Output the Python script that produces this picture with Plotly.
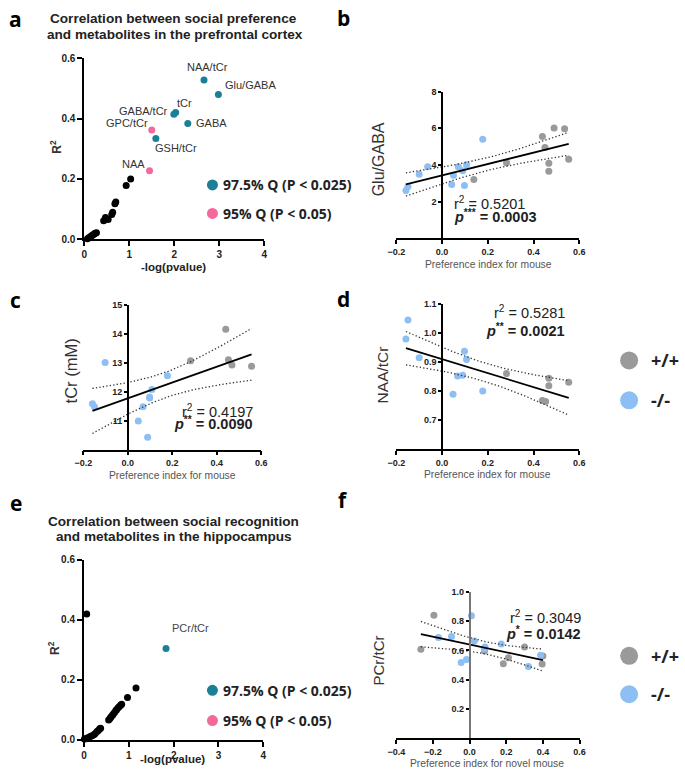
import numpy as np
import plotly.graph_objects as go

W, H = 685, 780

# ---------------- DATA ----------------
# Panel a: prefrontal cortex, R^2 vs -log(p)
a_names = ["NAA/tCr", "Glu/GABA", "tCr", "GABA/tCr", "GABA", "GSH/tCr", "GPC/tCr", "NAA"]
a_x = [2.66, 2.98, 2.03, 1.99, 2.30, 1.59, 1.50, 1.45]
a_y = [0.528, 0.480, 0.420, 0.414, 0.384, 0.334, 0.362, 0.227]
a_group = ["q975", "q975", "q975", "q975", "q975", "q975", "q95", "q95"]
a_black_x = [1.03, 0.93, 0.70, 0.68, 0.63, 0.61, 0.53, 0.47, 0.43, 0.27, 0.24, 0.22, 0.19, 0.16, 0.13, 0.10, 0.07]
a_black_y = [0.200, 0.178, 0.124, 0.118, 0.090, 0.082, 0.066, 0.072, 0.062, 0.022, 0.020, 0.018, 0.014, 0.012, 0.008, 0.005, 0.002]

# Panel e: hippocampus
e_names = ["PCr/tCr"]
e_x = [1.83]
e_y = [0.304]
e_black_x = [0.06, 1.16, 0.97, 0.84, 0.82, 0.79, 0.76, 0.73, 0.71, 0.68, 0.65, 0.63, 0.60, 0.58, 0.55,
             0.37, 0.35, 0.32, 0.29, 0.25, 0.22, 0.18, 0.14, 0.10, 0.07, 0.05, 0.01]
e_black_y = [0.419, 0.172, 0.140, 0.118, 0.115, 0.110, 0.106, 0.100, 0.097, 0.090, 0.084, 0.080, 0.075, 0.070, 0.065,
             0.038, 0.036, 0.030, 0.027, 0.020, 0.016, 0.013, 0.010, 0.006, 0.005, 0.003, 0.002]

# Panel b: Glu/GABA vs preference index
b_wt_x = [0.139, 0.282, 0.439, 0.490, 0.536, 0.450, 0.467, 0.467, 0.554]
b_wt_y = [3.21, 4.13, 5.55, 6.02, 5.98, 4.96, 4.09, 3.66, 4.32]
b_ko_x = [-0.158, -0.149, -0.100, -0.063, 0.071, 0.050, 0.042, 0.090, 0.107, 0.098, 0.178]
b_ko_y = [2.61, 2.83, 3.50, 3.91, 3.91, 3.44, 2.94, 3.69, 4.02, 2.88, 5.41]

# Panel c: tCr (mM)
c_wt_x = [0.282, 0.440, 0.452, 0.468, 0.556]
c_wt_y = [13.08, 14.17, 13.11, 12.93, 12.89]
c_ko_x = [-0.159, -0.150, -0.102, 0.047, 0.068, 0.089, 0.098, 0.108, 0.178, 0.098]
c_ko_y = [11.59, 11.48, 13.02, 10.99, 11.48, 10.43, 11.79, 12.08, 12.56, 11.82]

# Panel d: NAA/tCr
d_wt_x = [0.282, 0.467, 0.467, 0.554, 0.439, 0.453]
d_wt_y = [0.860, 0.844, 0.818, 0.830, 0.768, 0.764]
d_ko_x = [-0.149, -0.158, -0.100, 0.098, 0.107, 0.068, 0.090, 0.048, 0.178]
d_ko_y = [1.044, 0.979, 0.914, 0.937, 0.908, 0.852, 0.854, 0.789, 0.800]

# Panel f: PCr/tCr vs preference index for novel mouse
f_wt_x = [-0.266, -0.195, 0.081, 0.212, 0.184, 0.300, 0.400, 0.396]
f_wt_y = [0.608, 0.841, 0.597, 0.550, 0.509, 0.624, 0.563, 0.507]
f_ko_x = [-0.170, -0.099, 0.010, 0.026, -0.046, -0.017, 0.084, 0.173, 0.321, 0.387, 0.080]
f_ko_y = [0.689, 0.696, 0.837, 0.664, 0.518, 0.538, 0.624, 0.644, 0.491, 0.568, 0.610]

stats_text = {
    "b": ("0.5201", "***", "0.0003"),
    "c": ("0.4197", "**", "0.0090"),
    "d": ("0.5281", "**", "0.0021"),
    "f": ("0.3049", "*", "0.0142"),
}
# two-sided 95% t critical values by degrees of freedom
t_crit = {12: 2.179, 13: 2.160, 14: 2.145, 15: 2.131, 16: 2.120, 17: 2.110, 18: 2.101, 19: 2.093}

# ---------------- STYLE ----------------
TEAL = "#1b7f95"
PINK = "#f26a9c"
GRAY = "#9a9a9a"
BLUE = "#8dbff4"
FONT = "Arial, Liberation Sans, sans-serif"
OPEN = "Open Sans, sans-serif"


def px(x):
    return x / W


def py(y):
    return 1 - y / H


fig = go.Figure()

# domains in pixels: (x0, x1, ytop, ybottom)
dom = {
    1: (77, 261, 53, 237),
    2: (396, 583, 87, 236),
    3: (76, 258, 304, 450.5),
    4: (396, 583, 302.3, 450.3),
    5: (76.7, 260, 562.3, 745),
    6: (396, 583.3, 595, 743.8),
}
ranges = {
    1: ([0, 4], [0, 0.6]),
    2: ([-0.2, 0.6], [0, 8]),
    3: ([-0.2, 0.6], [10, 15]),
    4: ([-0.2, 0.6], [0.6, 1.1]),
    5: ([0, 4], [0, 0.6]),
    6: ([-0.4, 0.6], [0, 1.0]),
}


def ax(i, s):
    return s if i == 1 else f"{s}{i}"


def tr(i):
    return dict(xaxis=ax(i, "x"), yaxis=ax(i, "y"))


tickfont = dict(family=FONT, size=10, color="#222", weight="bold")
tickfont_s = dict(family=FONT, size=9, color="#222", weight="bold")

for i in range(1, 7):
    x0, x1, yt, yb = dom[i]
    xr, yr = ranges[i]
    xd = [px(x0), px(x1)]
    yd = [py(yb), py(yt)]
    xkey = "xaxis" if i == 1 else f"xaxis{i}"
    ykey = "yaxis" if i == 1 else f"yaxis{i}"
    if i in (1, 5):
        xa = dict(domain=xd, range=xr, anchor=ax(i, "y"), tickvals=[0, 1, 2, 3, 4],
                  showgrid=False, zeroline=False, showline=True, linecolor="black", linewidth=2,
                  ticks="outside", ticklen=5, tickwidth=2, tickcolor="black", tickfont=tickfont)
        ya = dict(domain=yd, range=yr, anchor=ax(i, "x"), tickvals=[0, 0.2, 0.4, 0.6], tickformat=".1f",
                  showgrid=False, zeroline=False, showline=True, linecolor="black", linewidth=2,
                  ticks="outside", ticklen=5, tickwidth=2, tickcolor="black", tickfont=tickfont)
    else:
        if i == 6:
            xt = [-0.4, -0.2, 0, 0.2, 0.4, 0.6]
        else:
            xt = [-0.2, 0, 0.2, 0.4, 0.6]
        yt_vals = {2: [2, 4, 6, 8], 3: [11, 12, 13, 14, 15], 4: [0.7, 0.8, 0.9, 1.0, 1.1],
                   6: [0.2, 0.4, 0.6, 0.8, 1.0]}[i]
        yfmt = {2: "d", 3: "d", 4: ".1f", 6: ".1f"}[i]
        zero_pos = px(x0 + (0 - xr[0]) / (xr[1] - xr[0]) * (x1 - x0))
        ycol = "#777" if i == 6 else "black"
        xa = dict(domain=xd, range=xr, anchor=ax(i, "y"), tickvals=xt, tickformat=".1f",
                  showgrid=False, zeroline=False, showline=True, linecolor="black", linewidth=1.6,
                  ticks="outside", ticklen=4, tickwidth=1.6, tickcolor="black", tickfont=tickfont_s)
        ya = dict(domain=yd, range=yr, anchor="free", position=zero_pos, tickvals=yt_vals, tickformat=yfmt,
                  showgrid=False, zeroline=False, showline=True, linecolor=ycol, linewidth=1.6,
                  ticks="outside", ticklen=3, tickwidth=1.6, tickcolor="black", tickfont=tickfont_s)
    fig.layout[xkey] = xa
    fig.layout[ykey] = ya

# ---------------- Panel a / e scatter ----------------
fig.add_trace(go.Scatter(x=a_black_x, y=a_black_y, mode="markers", cliponaxis=False,
                         marker=dict(color="black", size=7), **tr(1)))
for g, col in (("q975", TEAL), ("q95", PINK)):
    xs = [x for x, gg in zip(a_x, a_group) if gg == g]
    ys = [y for y, gg in zip(a_y, a_group) if gg == g]
    fig.add_trace(go.Scatter(x=xs, y=ys, mode="markers", cliponaxis=False,
                             marker=dict(color=col, size=7), **tr(1)))

fig.add_trace(go.Scatter(x=e_black_x, y=e_black_y, mode="markers", cliponaxis=False,
                         marker=dict(color="black", size=7), **tr(5)))
fig.add_trace(go.Scatter(x=e_x, y=e_y, mode="markers", cliponaxis=False,
                         marker=dict(color=TEAL, size=7), **tr(5)))

annotations = []
label_shift = {
    "NAA/tCr": (4, 13), "Glu/GABA": (32, 9), "tCr": (9, 10), "GABA/tCr": (-30, 3),
    "GABA": (24, 0), "GSH/tCr": (20, -9), "GPC/tCr": (-25, 7), "NAA": (-16, 7),
}
for n, x, y in zip(a_names, a_x, a_y):
    dx, dy = label_shift[n]
    annotations.append(dict(x=x, y=y, xref="x", yref="y", text=n, showarrow=False,
                            xshift=dx, yshift=dy, font=dict(family=FONT, size=11, color="#333")))
for n, x, y in zip(e_names, e_x, e_y):
    annotations.append(dict(x=x, y=y, xref="x5", yref="y5", text=n, showarrow=False,
                            xshift=24, yshift=20, font=dict(family=FONT, size=11, color="#444")))


# ---------------- Regression panels ----------------
def fit_band(x, y):
    x = np.asarray(x, float)
    y = np.asarray(y, float)
    n = len(x)
    b1, b0 = np.polyfit(x, y, 1)
    xs = np.linspace(x.min(), x.max(), 60)
    yhat = b0 + b1 * xs
    resid = y - (b0 + b1 * x)
    s = np.sqrt(np.sum(resid ** 2) / (n - 2))
    sxx = np.sum((x - x.mean()) ** 2)
    se = s * np.sqrt(1 / n + (xs - x.mean()) ** 2 / sxx)
    t = t_crit[n - 2]
    return xs, yhat, yhat + t * se, yhat - t * se


reg = {
    2: (b_wt_x, b_wt_y, b_ko_x, b_ko_y),
    3: (c_wt_x, c_wt_y, c_ko_x, c_ko_y),
    4: (d_wt_x, d_wt_y, d_ko_x, d_ko_y),
    6: (f_wt_x, f_wt_y, f_ko_x, f_ko_y),
}
for i, (wx, wy, kx, ky) in reg.items():
    allx = list(wx) + list(kx)
    ally = list(wy) + list(ky)
    xs, yh, up, lo = fit_band(allx, ally)
    fig.add_trace(go.Scatter(x=wx, y=wy, mode="markers", marker=dict(color=GRAY, size=7), cliponaxis=False, **tr(i)))
    fig.add_trace(go.Scatter(x=kx, y=ky, mode="markers", marker=dict(color=BLUE, size=7), cliponaxis=False, **tr(i)))
    for band in (up, lo):
        fig.add_trace(go.Scatter(x=xs, y=band, mode="lines",
                                 line=dict(color="#333", width=1.3, dash="1.3px,2.2px"), **tr(i)))
    fig.add_trace(go.Scatter(x=xs, y=yh, mode="lines", line=dict(color="black", width=1.8), **tr(i)))

# stats text, anchored on the text baseline (bottom of box = baseline + descent)
stat_pos = {  # (x px, anchor, baseline r2 px, baseline p px)
    "b": (453, "left", 207, 220),
    "c": (251, "right", 418, 430.5),
    "d": (570, "right", 318, 336),
    "f": (587, "right", 628, 644),
}
DESC = 4
for k, (xp, anc, y1, y2) in stat_pos.items():
    r2, stars, pv = stats_text[k]
    annotations.append(dict(x=px(xp), y=py(y1 + DESC), xref="paper", yref="paper", xanchor=anc, yanchor="bottom",
                            text=f"r<sup>2</sup> = {r2}", showarrow=False,
                            font=dict(family=FONT, size=14.5, color="#222")))
    annotations.append(dict(x=px(xp), y=py(y2 + DESC), xref="paper", yref="paper", xanchor=anc, yanchor="bottom",
                            text=f"<b><i>p</i><sup>{stars}</sup> = {pv}</b>", showarrow=False,
                            font=dict(family=FONT, size=14.5, color="#222")))

# axis titles
ytitles = [
    ("<b>R<sup>2</sup></b>", 48, 143, 12),
    ("<b>R<sup>2</sup></b>", 46, 652, 12),
    ("Glu/GABA", 378, 156, 16),
    ("tCr (mM)", 63, 370.5, 16.5),
    ("NAA/tCr", 381.5, 375, 15.5),
    ("PCr/tCr", 378, 665, 15),
]
for t, xp, yp, fs in ytitles:
    annotations.append(dict(x=px(xp), y=py(yp), xref="paper", yref="paper", xanchor="center", yanchor="middle",
                            text=t, textangle=-90, showarrow=False,
                            font=dict(family=FONT, size=fs, color="#333")))
xtitles = [
    ("<b>-log(pvalue)</b>", 168, 265, 11.5, "#222"),
    ("<b>-log(pvalue)</b>", 167, 765, 11.5, "#222"),
    ("Preference index for mouse", 490, 262.5, 10.3, "#555"),
    ("Preference index for mouse", 167, 476.7, 10.3, "#555"),
    ("Preference index for mouse", 489, 475.7, 10.3, "#555"),
    ("Preference index for novel mouse", 489, 769, 10.3, "#555"),
]
for t, xp, yp, fs, col in xtitles:
    annotations.append(dict(x=px(xp), y=py(yp), xref="paper", yref="paper", xanchor="center", yanchor="middle",
                            text=t, showarrow=False, font=dict(family=FONT, size=fs, color=col)))

# chart titles
titles = [
    ("Correlation between social preference", 168, 13),
    ("and metabolites in the prefrontal cortex", 170, 29),
    ("Correlation between social recognition", 168, 524),
    ("and metabolites in the hippocampus", 169, 539),
]
for t, xp, yp in titles:
    annotations.append(dict(x=px(xp), y=py(yp), xref="paper", yref="paper", xanchor="center", yanchor="middle",
                            text=f"<b>{t}</b>", showarrow=False, font=dict(family=FONT, size=13.6, color="#222")))

# panel letters
letters = [("a", 7, 13), ("b", 341.5, 12.5), ("c", 7, 299), ("d", 341.5, 297.5), ("e", 7, 505), ("f", 341, 502)]
for t, xp, yp in letters:
    annotations.append(dict(x=px(xp), y=py(yp), xref="paper", yref="paper", xanchor="center", yanchor="middle",
                            text=f"<b>{t}</b>", showarrow=False, font=dict(family=OPEN, size=21, color="black")))

# legends (significance)
shapes = []


def legend_dot(xc, yc, d, col):
    shapes.append(dict(type="circle", xref="paper", yref="paper", xsizemode="pixel", ysizemode="pixel",
                       xanchor=px(xc), yanchor=py(yc), x0=-d / 2, x1=d / 2, y0=-d / 2, y1=d / 2,
                       fillcolor=col, line=dict(width=0)))


sig_items = [(TEAL, "97.5% Q (P < 0.025)"), (PINK, "95% Q (P < 0.05)")]
for (yc1, yc2) in ((181.7, 210.7), (695, 725.7)):
    for (col, lab), yc in zip(sig_items, (yc1, yc2)):
        legend_dot(208, yc, 11, col)
        annotations.append(dict(x=px(217), y=py(yc), xref="paper", yref="paper", xanchor="left", yanchor="middle",
                                text=f"<b>{lab}</b>", showarrow=False, font=dict(family=OPEN, size=14, color="#222")))

geno_items = [(GRAY, "+/+"), (BLUE, "-/-")]
for (yc1, yc2) in ((360, 400.5), (660, 699)):
    for (col, lab), yc in zip(geno_items, (yc1, yc2)):
        legend_dot(634, yc, 18, col)
        annotations.append(dict(x=px(654), y=py(yc), xref="paper", yref="paper", xanchor="left", yanchor="middle",
                                text=f"<b>{lab}</b>", showarrow=False, font=dict(family=OPEN, size=18, color="#222")))

fig.update_layout(
    width=W, height=H, margin=dict(l=0, r=0, t=0, b=0),
    paper_bgcolor="white", plot_bgcolor="white", showlegend=False,
    annotations=annotations, shapes=shapes,
)

fig.write_html("out.html", config={"displayModeBar": False},
               post_script="document.body.style.margin='0px';document.body.style.overflow='hidden';")
